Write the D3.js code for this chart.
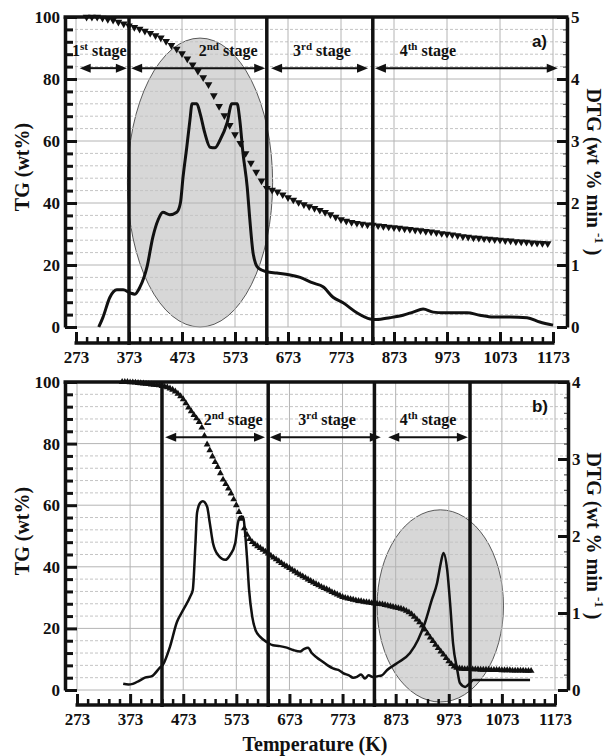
<!DOCTYPE html>
<html><head><meta charset="utf-8">
<script src="https://cdn.jsdelivr.net/npm/d3@7"></script>
<style>body{margin:0;background:#fff} svg{display:block} text{font-family:"Liberation Serif","DejaVu Serif",serif;}</style>
</head><body><svg id="c" width="611" height="756"></svg>
<script>
// ---------- DATA ----------
const tempTicks=[273,373,473,573,673,773,873,973,1073,1173];
const tgTicks=[0,20,40,60,80,100];
const dtgTicksA=[0,1,2,3,4,5];
const dtgTicksB=[0,1,2,3,4];

// TG (wt%) panel a, temperatures 293..1163 every 10 K
const tgAStart=293, tgAStep=10;
const tgA=[100,100,100,99.7,99.3,99.0,98.4,97.8,97.2,96.7,
96.1,95.5,94.8,94.0,93.3,92.2,90.9,89.7,88.2,86.5,
84.6,82.6,80.5,78.2,74.7,71.2,68.2,65.1,62.1,59.3,
56.0,52.9,50.0,47.2,44.8,44.2,43.6,42.7,41.8,41.0,
40.2,39.5,38.9,38.3,37.7,37.0,36.3,35.5,34.7,34.2,
33.8,33.5,33.2,33.0,32.9,32.7,32.5,32.3,32.1,31.9,
31.7,31.5,31.3,31.1,30.9,30.7,30.5,30.2,30.0,29.8,
29.5,29.2,29.0,28.8,28.7,28.5,28.4,28.2,28.1,27.9,
27.8,27.6,27.5,27.4,27.2,27.1,27.0,26.9];

// TG (wt%) panel b, temperatures 358..1128 every 5 K
const tgBStart=358, tgBStep=5;
const tgB=[100,100,100,99.9,99.9,99.8,99.7,99.6,99.5,99.4,
99.3,99.2,99.1,99.0,98.9,98.7,98.5,98.3,97.9,97.5,
96.9,96.2,95.4,94.4,93.1,91.7,90.5,89.3,88.2,87.0,
85.2,82.5,79.7,77.8,75.8,74.0,72.4,70.4,68.3,66.9,
65.4,63.8,61.9,60.0,57.8,55.6,52.5,50.4,49.0,48.0,
47.3,46.7,46.1,45.5,44.9,44.3,43.6,43.0,42.4,41.8,
41.2,40.6,40.1,39.6,39.0,38.5,37.9,37.4,36.9,36.4,
35.9,35.4,34.9,34.4,34.0,33.5,33.1,32.7,32.3,31.8,
31.4,31.0,30.6,30.2,29.9,29.7,29.5,29.3,29.1,28.9,
28.8,28.6,28.5,28.4,28.2,28.1,28.0,27.9,27.8,27.6,
27.4,27.2,27.0,26.8,26.6,26.4,26.1,25.7,25.2,24.6,
23.8,22.9,22.0,20.9,19.6,18.3,17.0,15.9,14.7,13.6,
12.5,11.5,10.4,9.3,8.4,7.6,7.2,7.0,6.9,6.8,
6.8,6.8,6.7,6.7,6.7,6.6,6.6,6.6,6.6,6.5,
6.5,6.5,6.5,6.4,6.4,6.4,6.4,6.3,6.3,6.3,
6.3,6.3,6.2,6.2,6.2];

// DTG (wt% min-1) [T, value]
const dtgA=[[316,0],[324,0.16],[337,0.48],[350,0.60],[362,0.60],[375,0.55],[384,0.53],[394,0.65],[407,0.97],[418,1.45],[428,1.73],[437,1.85],[450,1.81],[463,1.85],[470,2.0],[475,2.42],[482,2.90],[488,3.34],[492,3.60],[501,3.60],[507,3.45],[516,3.13],[526,2.90],[535,2.89],[545,3.02],[558,3.29],[567,3.60],[577,3.60],[582,3.34],[588,2.81],[596,2.26],[601,1.73],[607,1.20],[612,1.02],[617,0.95],[633,0.89],[652,0.87],[677,0.84],[696,0.80],[720,0.71],[739,0.65],[758,0.48],[777,0.39],[803,0.23],[828,0.13],[840,0.12],[865,0.15],[890,0.19],[909,0.24],[928,0.29],[947,0.24],[966,0.23],[1011,0.23],[1035,0.19],[1060,0.16],[1092,0.16],[1124,0.15],[1148,0.08],[1173,0.03]];

const dtgB=[[360,0.08],[370,0.07],[378,0.08],[390,0.12],[401,0.16],[414,0.18],[429,0.29],[435,0.33],[448,0.56],[461,0.88],[473,1.04],[486,1.21],[491,1.30],[496,1.9],[499,2.30],[505,2.43],[510,2.45],[518,2.38],[523,2.17],[529,1.91],[539,1.75],[552,1.69],[561,1.75],[571,1.91],[576,2.17],[580,2.25],[586,2.25],[589,2.08],[593,1.73],[597,1.30],[603,0.95],[609,0.78],[618,0.69],[631,0.62],[642,0.58],[655,0.57],[668,0.55],[680,0.52],[693,0.50],[700,0.53],[708,0.55],[715,0.48],[725,0.42],[735,0.37],[745,0.32],[755,0.28],[765,0.26],[774,0.22],[785,0.19],[793,0.16],[800,0.17],[808,0.20],[815,0.15],[822,0.19],[830,0.17],[840,0.18],[847,0.19],[857,0.26],[876,0.35],[900,0.48],[915,0.65],[928,0.87],[941,1.17],[951,1.39],[958,1.65],[963,1.78],[970,1.56],[976,1.08],[981,0.61],[989,0.26],[994,0.09],[1004,0.04],[1013,0.09],[1019,0.13],[1126,0.13]];

const stageLinesA=[373,633,833];
const stageLinesB=[433,633,833,1013];
const stageLabelsA=[{t:317,n:"1",s:"st"},{t:560,n:"2",s:"nd"},{t:737,n:"3",s:"rd"},{t:937,n:"4",s:"th"}];
const stageLabelsB=[{t:567,n:"2",s:"nd"},{t:744,n:"3",s:"rd"},{t:934,n:"4",s:"th"}];
const stageArrowsA=[[280,369],[377,630],[641,824],[837,1182]];
const stageArrowsB=[[439,627],[636,845],[859,1009]];
const panelLabels=["a)","b)"];
const ellipseA={t:507,tg:46.6,rt:137,rtg:46.6};
const ellipseB={t:957,tg:27.3,rt:119,rtg:31.2};

// ---------- DRAW ----------
const svg=d3.select("#c");
const SERIF='"Liberation Serif","DejaVu Serif",serif';
const SANS='"Liberation Sans","DejaVu Sans",sans-serif';

function serifText(sel,fs){
  return sel.style("font-family",SERIF).style("font-weight","bold").style("font-size",fs+"px").attr("fill","#111");
}

function panel(o){
  const x=d3.scaleLinear().domain([273,1173]).range(o.xr);
  const yL=d3.scaleLinear().domain([0,100]).range([o.bot,o.top]);
  const yR=d3.scaleLinear().domain([0,o.dtgMax]).range([o.bot,o.top]);
  const g=svg.append("g");
  const L=o.left,R=o.right;

  // ellipse
  g.append("ellipse").attr("cx",x(o.ell.t)).attr("cy",yL(o.ell.tg))
   .attr("rx",x(o.ell.t+o.ell.rt)-x(o.ell.t)).attr("ry",yL(0)-yL(o.ell.rtg))
   .attr("fill","#d7d7d7").attr("stroke","#333").attr("stroke-width",0.8);

  // grid
  const hg=d3.range(0,100,4);
  g.selectAll(".hg").data(hg).join("line")
   .attr("x1",L).attr("x2",R).attr("y1",d=>yL(d)).attr("y2",d=>yL(d))
   .attr("stroke",d=>d%20===0?"#b4b4b4":"#c4c4c4").attr("stroke-width",1)
   .attr("stroke-dasharray",d=>d%20===0?null:"3,2");
  g.selectAll(".vg").data(tempTicks).join("line")
   .attr("x1",d=>x(d)).attr("x2",d=>x(d)).attr("y1",o.top).attr("y2",o.bot)
   .attr("stroke","#b4b4b4").attr("stroke-width",1);

  // TG markers
  const sym=d3.symbol().type(d3.symbolTriangle).size(o.msize);
  g.selectAll(".tg").data(o.tg).join("path")
   .attr("d",sym)
   .attr("transform",(d,i)=>`translate(${x(o.tgStart+i*o.tgStep)},${yL(d)})${o.down?" rotate(180)":""}`)
   .attr("fill","#111");

  // DTG line
  g.append("path").datum(o.dtg)
   .attr("d",d3.line().x(d=>x(d[0])).y(d=>yR(d[1])).curve(d3.curveMonotoneX))
   .attr("fill","none").attr("stroke","#111").attr("stroke-width",o.lw).attr("stroke-linejoin","round");

  // stage lines
  g.selectAll(".sl").data(o.stages).join("line")
   .attr("x1",d=>x(d)).attr("x2",d=>x(d)).attr("y1",o.top).attr("y2",o.axisY+2)
   .attr("stroke","#111").attr("stroke-width",3.5);

  // arrows
  const ay=yL(o.arrowTG), hl=11, hw=4.5;
  o.arrows.forEach(a=>{
    const x1=x(a[0]),x2=x(a[1]);
    g.append("line").attr("x1",x1+hl-1).attr("x2",x2-hl+1).attr("y1",ay).attr("y2",ay)
     .attr("stroke","#111").attr("stroke-width",2);
    g.append("path").attr("d",`M${x1},${ay}L${x1+hl},${ay-hw}L${x1+hl},${ay+hw}Z`).attr("fill","#111");
    g.append("path").attr("d",`M${x2},${ay}L${x2-hl},${ay-hw}L${x2-hl},${ay+hw}Z`).attr("fill","#111");
  });

  // stage labels
  o.labels.forEach(l=>{
    const t=serifText(g.append("text"),16).attr("x",x(l.t)).attr("y",yL(o.labelTG)).attr("text-anchor","middle");
    t.append("tspan").text(l.n);
    t.append("tspan").attr("dy",-6).style("font-size","11px").text(l.s);
    t.append("tspan").attr("dy",6).text(" stage");
  });

  // panel letter
  g.append("text").attr("x",o.letterX).attr("y",o.letterY).attr("text-anchor","end")
   .style("font-family",SANS).style("font-weight","bold").style("font-size","17px").attr("fill","#111").text(o.letter);

  // frame top
  g.append("line").attr("x1",L-1.5).attr("x2",R+1.5).attr("y1",o.top).attr("y2",o.top)
   .attr("stroke","#111").attr("stroke-width",3.5);

  const styleAxis=(sel,fs)=>{
    serifText(sel.selectAll("text"),fs);
    sel.selectAll("line").attr("stroke","#111");
    sel.select(".domain").attr("stroke","#111").attr("stroke-width",3.5);
  };
  const fmt=d3.format("d");

  // left axis
  const gl=g.append("g").attr("transform",`translate(${L},0)`);
  gl.append("g").call(d3.axisLeft(yL).tickValues(d3.range(4,100,4).filter(v=>v%20)).tickSize(-8).tickFormat("").tickSizeOuter(0))
    .call(s=>{s.select(".domain").remove();s.selectAll("line").attr("stroke","#111").attr("stroke-width",3);});
  gl.append("g").call(d3.axisLeft(yL).tickValues(tgTicks).tickSize(-12).tickPadding(5).tickSizeOuter(0).tickFormat(fmt))
    .call(s=>{styleAxis(s,17);s.selectAll(".tick line").attr("stroke-width",3);});

  // right axis
  const gr=g.append("g").attr("transform",`translate(${R},0)`);
  gr.append("g").call(d3.axisRight(yR).tickValues(d3.range(0,o.dtgMax,0.2).filter(v=>Math.abs(v-Math.round(v))>0.01)).tickSize(-4).tickFormat("").tickSizeOuter(0))
    .call(s=>{s.select(".domain").remove();s.selectAll("line").attr("stroke","#333").attr("stroke-width",1);});
  gr.append("g").call(d3.axisRight(yR).tickValues(o.dtgTicks).tickSize(-10).tickPadding(4).tickSizeOuter(0).tickFormat(fmt))
    .call(s=>{styleAxis(s,17);s.selectAll(".tick line").attr("stroke-width",3);});

  // bottom axis
  const gb=g.append("g").attr("transform",`translate(0,${o.axisY})`);
  gb.append("g").call(d3.axisBottom(x).tickValues(d3.range(293,1173,20).filter(v=>(v-273)%100)).tickSize(-6).tickFormat("").tickSizeOuter(0))
    .call(s=>{s.select(".domain").remove();s.selectAll("line").attr("stroke","#111").attr("stroke-width",2.5);});
  gb.append("g").call(d3.axisBottom(x).tickValues(tempTicks).tickSize(-11).tickPadding(8).tickSizeOuter(0).tickFormat(fmt))
    .call(s=>{styleAxis(s,17);s.selectAll(".tick line").attr("stroke-width",3);
      s.select(".domain").attr("d",`M${o.xr[0]-1.5},0H${o.xr[1]+1.5}`);});

  // axis titles
  const cy=(o.top+o.bot)/2;
  serifText(g.append("text"),20).attr("transform",`translate(29,${cy-5}) rotate(-90)`).attr("text-anchor","middle").text("TG (wt%)");
  const rt=serifText(g.append("text"),20).attr("transform",`translate(587,${cy}) rotate(90)`).attr("text-anchor","middle");
  rt.append("tspan").text("DTG (wt % min ");
  rt.append("tspan").attr("dy",-8).style("font-size","13px").text("-1");
  rt.append("tspan").attr("dy",8).text(" )");
}

panel({xr:[76,553],top:17,bot:327,left:65,right:567,axisY:343,dtgMax:5,dtgTicks:dtgTicksA,
  tg:tgA,tgStart:tgAStart,tgStep:tgAStep,down:true,msize:26,dtg:dtgA,lw:3,
  stages:stageLinesA,arrows:stageArrowsA,arrowTG:83.5,labels:stageLabelsA,labelTG:87.4,
  ell:ellipseA,letter:panelLabels[0],letterX:547,letterY:47});
panel({xr:[77,555],top:382,bot:690,left:65,right:568,axisY:705,dtgMax:4,dtgTicks:dtgTicksB,
  tg:tgB,tgStart:tgBStart,tgStep:tgBStep,down:false,msize:20,dtg:dtgB,lw:2.5,
  stages:stageLinesB,arrows:stageArrowsB,arrowTG:82.1,labels:stageLabelsB,labelTG:86.0,
  ell:ellipseB,letter:panelLabels[1],letterX:548,letterY:412});

serifText(svg.append("text"),20).attr("x",315).attr("y",751).attr("text-anchor","middle").text("Temperature (K)");
</script></body></html>
